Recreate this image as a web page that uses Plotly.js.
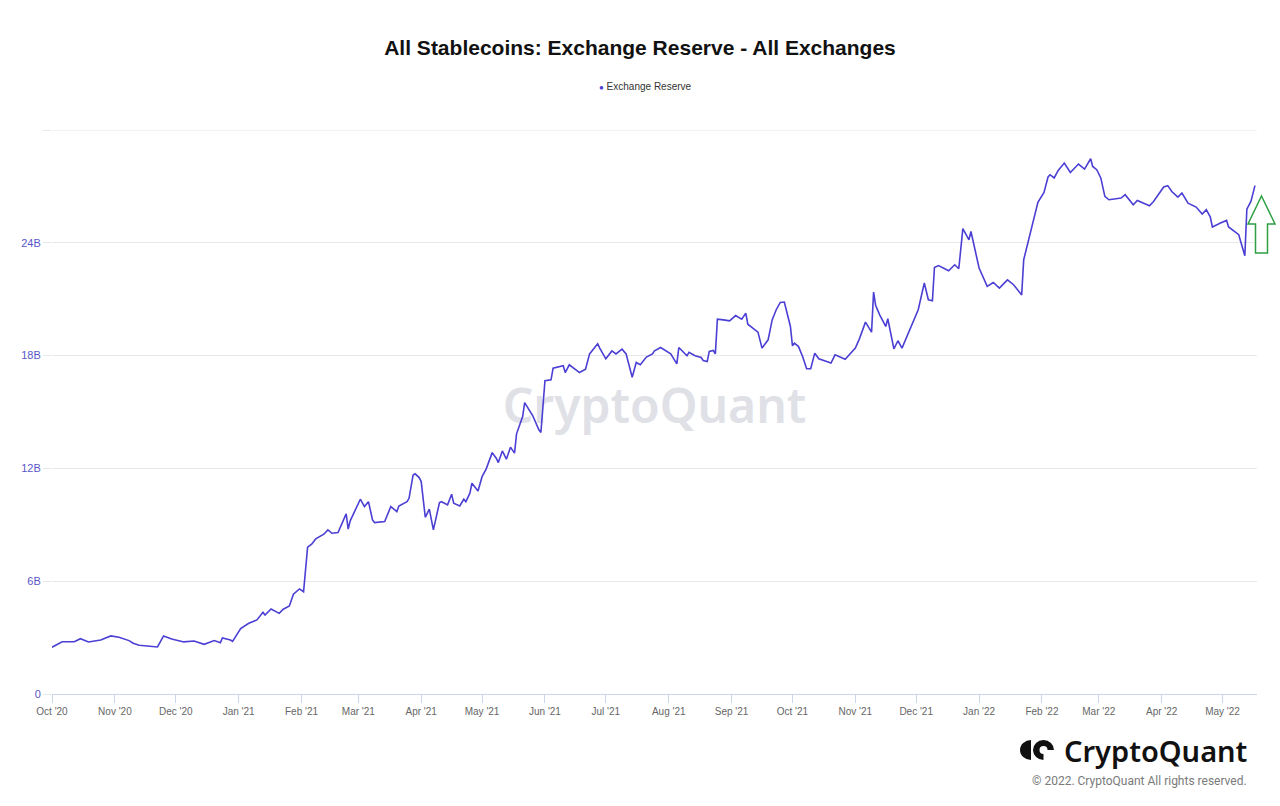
<!DOCTYPE html>
<html>
<head>
<meta charset="utf-8">
<script src="https://cdn.plot.ly/plotly-3.0.1.min.js"></script>
<style>
html,body{margin:0;padding:0;background:#fff;}
#chart{width:1280px;height:806px;}
</style>
</head>
<body>
<div id="chart"></div>
<script>
const dates = [
"2020-10-01","2020-10-06","2020-10-12","2020-10-15","2020-10-19","2020-10-25","2020-10-30","2020-11-03","2020-11-08","2020-11-10",
"2020-11-13","2020-11-17","2020-11-22","2020-11-25","2020-11-29","2020-12-05","2020-12-10","2020-12-15","2020-12-20","2020-12-23",
"2020-12-24","2020-12-28","2020-12-29","2021-01-02","2021-01-06","2021-01-10","2021-01-13","2021-01-14","2021-01-17","2021-01-21",
"2021-01-23","2021-01-26","2021-01-28","2021-01-31","2021-02-02","2021-02-04","2021-02-06","2021-02-08","2021-02-12","2021-02-14",
"2021-02-16","2021-02-19","2021-02-22","2021-02-23","2021-02-24","2021-02-25","2021-03-02","2021-03-04","2021-03-06","2021-03-08",
"2021-03-09","2021-03-14","2021-03-17","2021-03-20","2021-03-21","2021-03-25","2021-03-26","2021-03-28","2021-03-29","2021-03-31",
"2021-04-01","2021-04-03","2021-04-05","2021-04-07","2021-04-10","2021-04-11","2021-04-14","2021-04-16","2021-04-17","2021-04-20",
"2021-04-22","2021-04-23","2021-04-25","2021-04-26","2021-04-29","2021-05-01","2021-05-03","2021-05-06","2021-05-08","2021-05-09",
"2021-05-11","2021-05-13","2021-05-15","2021-05-17","2021-05-18","2021-05-21","2021-05-22","2021-05-24","2021-05-26","2021-05-29",
"2021-05-30","2021-06-01","2021-06-04","2021-06-05","2021-06-10","2021-06-11","2021-06-13","2021-06-18","2021-06-21","2021-06-23",
"2021-06-27","2021-06-28","2021-07-01","2021-07-04","2021-07-06","2021-07-09","2021-07-11","2021-07-14","2021-07-16","2021-07-18",
"2021-07-21","2021-07-24","2021-07-25","2021-07-28","2021-08-02","2021-08-05","2021-08-06","2021-08-10","2021-08-11","2021-08-14",
"2021-08-17","2021-08-18","2021-08-20","2021-08-21","2021-08-23","2021-08-24","2021-08-25","2021-08-28","2021-08-31","2021-09-03",
"2021-09-06","2021-09-08","2021-09-09","2021-09-14","2021-09-16","2021-09-19","2021-09-21","2021-09-23","2021-09-25","2021-09-27",
"2021-09-30","2021-10-01","2021-10-02","2021-10-04","2021-10-06","2021-10-08","2021-10-10","2021-10-12","2021-10-14","2021-10-20",
"2021-10-22","2021-10-27","2021-11-01","2021-11-03","2021-11-06","2021-11-09","2021-11-10","2021-11-11","2021-11-13","2021-11-16",
"2021-11-17","2021-11-20","2021-11-22","2021-11-24","2021-11-27","2021-12-02","2021-12-05","2021-12-07","2021-12-09","2021-12-10",
"2021-12-12","2021-12-17","2021-12-20","2021-12-22","2021-12-24","2021-12-27","2021-12-28","2021-12-31","2022-01-01","2022-01-05",
"2022-01-08","2022-01-11","2022-01-15","2022-01-18","2022-01-22","2022-01-23","2022-01-25","2022-01-27","2022-01-30","2022-02-02",
"2022-02-04","2022-02-05","2022-02-07","2022-02-09","2022-02-12","2022-02-15","2022-02-19","2022-02-22","2022-02-25","2022-02-26",
"2022-02-28","2022-03-02","2022-03-04","2022-03-06","2022-03-12","2022-03-14","2022-03-18","2022-03-20","2022-03-26","2022-03-28",
"2022-04-02","2022-04-04","2022-04-06","2022-04-09","2022-04-11","2022-04-14","2022-04-18","2022-04-21","2022-04-23","2022-04-25",
"2022-04-26","2022-04-30","2022-05-03","2022-05-04","2022-05-06","2022-05-09","2022-05-12","2022-05-13","2022-05-15","2022-05-17"
];
const reserveB = [
2.49,2.78,2.78,2.94,2.77,2.87,3.09,3.02,2.84,2.70,
2.59,2.55,2.50,3.09,2.93,2.77,2.82,2.64,2.84,2.73,
2.98,2.87,2.80,3.48,3.76,3.94,4.35,4.20,4.52,4.29,
4.51,4.68,5.31,5.59,5.44,7.81,7.97,8.25,8.50,8.73,
8.55,8.59,9.40,9.58,8.77,9.21,10.36,9.97,10.23,9.26,
9.12,9.17,9.97,9.70,10.00,10.23,10.41,11.65,11.71,11.51,
11.30,9.40,9.83,8.73,10.18,10.23,10.06,10.63,10.15,10.00,
10.36,10.23,10.68,11.21,10.80,11.56,11.96,12.84,12.54,12.31,
12.93,12.49,13.13,12.81,13.84,14.76,15.50,15.11,14.80,14.05,
13.91,16.67,16.71,17.33,17.46,17.10,17.51,17.10,17.28,18.09,
18.63,18.40,17.83,18.25,18.09,18.34,18.09,16.85,17.63,17.51,
17.92,18.09,18.25,18.43,18.09,17.56,18.43,17.99,18.17,17.99,
17.90,17.74,17.69,18.22,18.27,18.09,19.94,19.90,19.85,20.13,
19.94,20.26,19.67,19.25,18.40,18.84,19.90,20.44,20.83,20.85,
19.55,18.52,18.66,18.48,17.95,17.30,17.30,18.13,17.83,17.60,
18.04,17.81,18.40,18.89,19.78,19.25,21.38,20.67,20.17,19.55,
19.96,18.36,18.79,18.40,19.14,20.44,21.86,20.97,20.92,22.69,
22.79,22.51,22.83,22.62,24.75,24.16,24.60,23.01,22.66,21.68,
21.89,21.59,22.03,21.77,21.23,23.10,23.99,24.78,26.15,26.68,
27.50,27.62,27.45,27.85,28.24,27.74,28.19,27.92,28.47,28.06,
27.89,27.45,26.47,26.29,26.38,26.56,26.02,26.25,25.97,26.20,
26.97,27.04,26.73,26.43,26.65,26.11,25.90,25.53,25.76,25.37,
24.84,25.05,25.19,24.84,24.66,24.43,23.31,25.79,26.20,27.04
];
const yTickVals = [0, 6e9, 12e9, 18e9, 24e9, 30e9];
const yTickText = ["0", "6B", "12B", "18B", "24B", ""];
const yMax = 30e9;
const seriesName = "Exchange Reserve";
const titleText = "All Stablecoins: Exchange Reserve - All Exchanges";

const lineColor = "#4b3fd4";
const values = reserveB.map(v => v * 1e9);

// pixel -> paper helpers (plot area: x 52..1257, y 130..694)
const px = x => (x - 52) / 1205;
const py = y => (694 - y) / 564;

const traces = [
  {x: dates, y: values, type: "scatter", mode: "lines", name: seriesName,
   line: {color: lineColor, width: 1.6}, showlegend: false}
];

const arrowPath = "M " + px(1261.5) + " " + py(196) + " L " + px(1275) + " " + py(224) +
  " L " + px(1267.5) + " " + py(224) + " L " + px(1267.5) + " " + py(253) +
  " L " + px(1255.5) + " " + py(253) + " L " + px(1255.5) + " " + py(224) +
  " L " + px(1248) + " " + py(224) + " Z";

const layout = {
  width: 1280, height: 806,
  paper_bgcolor: "#ffffff", plot_bgcolor: "rgba(0,0,0,0)",
  margin: {l: 52, r: 23, t: 130, b: 112},
  title: {text: "<b>" + titleText + "</b>", x: 0.5, xanchor: "center", xref: "container",
          y: 1 - 48/806, yanchor: "middle",
          font: {family: "Liberation Sans, Arial, sans-serif", size: 21, color: "#111"}},
  showlegend: false,
  xaxis: {type: "date", range: ["2020-10-01", "2022-05-18"],
          dtick: "M1", tick0: "2020-10-01", tickformat: "%b '%y",
          showgrid: false, showline: true, linecolor: "#ccd6eb", linewidth: 1,
          ticks: "outside", ticklen: 8, tickcolor: "#ccd6eb",
          tickfont: {family: "Liberation Sans, Arial, sans-serif", size: 10, color: "#666"},
          zeroline: false, fixedrange: true},
  yaxis: {range: [0, yMax], tickvals: yTickVals, ticktext: yTickText,
          showgrid: true, gridcolor: "#e8e8e8", gridwidth: 1,
          ticks: "outside", ticklen: 8, tickcolor: "#e8e8e8",
          tickfont: {family: "Liberation Sans, Arial, sans-serif", size: 11, color: "#5a55c8"},
          zeroline: false, showline: false, fixedrange: true},
  shapes: [
    {type: "line", xref: "paper", yref: "y", x0: 0, x1: 1, y0: yMax, y1: yMax,
     line: {color: "#e8e8e8", width: 1}, layer: "below"},
    {type: "rect", xref: "paper", yref: "paper", x0: 0.3, x1: 0.7, y0: py(440), y1: py(375),
     line: {width: 0}, fillcolor: "rgba(0,0,0,0)", layer: "below",
     label: {text: "CryptoQuant", textposition: "middle center",
             font: {family: "Noto Sans, sans-serif", size: 48, weight: 600, color: "#e0e0e7"}}},
    {type: "path", xref: "paper", yref: "paper", path: arrowPath,
     line: {color: "#2ea043", width: 1.5}, fillcolor: "rgba(255,255,255,0)"},
    // logo icon: half disc + Q-like disc
    {type: "circle", xref: "paper", yref: "paper", x0: px(1020), x1: px(1042), y0: py(760), y1: py(740),
     line: {width: 0}, fillcolor: "#111"},
    {type: "rect", xref: "paper", yref: "paper", x0: px(1031), x1: px(1043), y0: py(761), y1: py(739),
     line: {width: 0}, fillcolor: "#fff"},
    {type: "circle", xref: "paper", yref: "paper", x0: px(1033), x1: px(1054), y0: py(760), y1: py(740),
     line: {width: 0}, fillcolor: "#111"},
    {type: "rect", xref: "paper", yref: "paper", x0: px(1043.5), x1: px(1055), y0: py(761), y1: py(750),
     line: {width: 0}, fillcolor: "#fff"},
    {type: "circle", xref: "paper", yref: "paper", x0: px(1039.5), x1: px(1047.5), y0: py(754), y1: py(746),
     line: {width: 0}, fillcolor: "#fff"}
  ],
  annotations: [
    {text: "<span style='color:" + lineColor + ";font-size:8px'>●</span> " + seriesName,
     xref: "paper", yref: "paper", x: px(645), y: py(86), xanchor: "center", yanchor: "middle",
     showarrow: false, font: {family: "Liberation Sans, Arial, sans-serif", size: 10, color: "#333"}},
    {text: "CryptoQuant", xref: "paper", yref: "paper", x: px(1249), y: py(751),
     xanchor: "right", yanchor: "middle", showarrow: false,
     font: {family: "Noto Sans, sans-serif", size: 29, weight: 600, color: "#111"}},
    {text: "© 2022. CryptoQuant All rights reserved.", xref: "paper", yref: "paper",
     x: px(1249), y: py(781), xanchor: "right", yanchor: "middle", showarrow: false,
     font: {family: "Roboto, sans-serif", size: 12, color: "#7a7a7a"}}
  ],
  hovermode: false
};

Plotly.newPlot("chart", traces, layout, {displayModeBar: false, staticPlot: true});
</script>
</body>
</html>
